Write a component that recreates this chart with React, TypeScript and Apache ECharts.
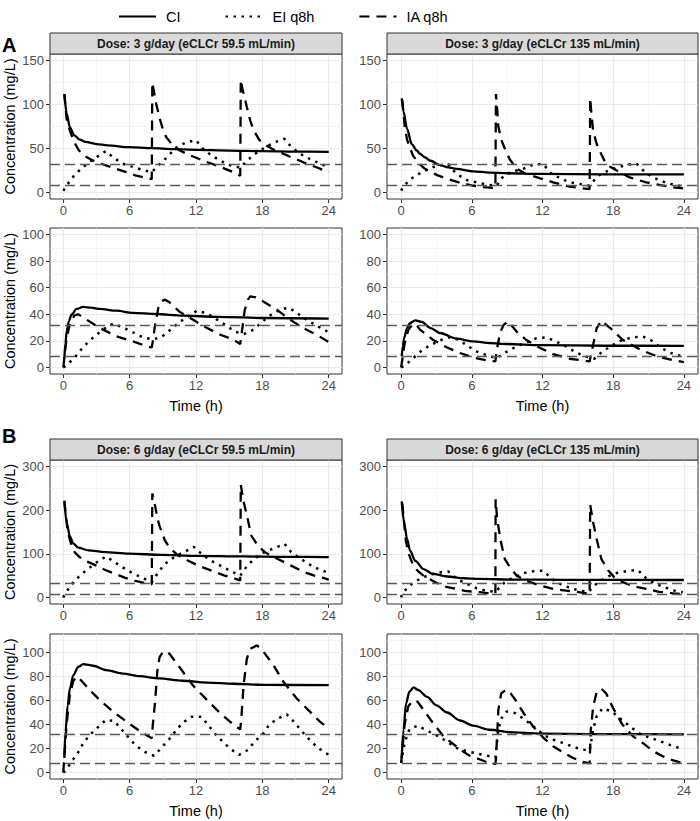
import React, { useEffect, useRef } from "react";
import * as echarts from "echarts";

type P = [number, number];

// ---------- text / categories ----------
const legendNames = ["CI", "EI q8h", "IA q8h"];
const stripTitles = [
  "Dose: 3 g/day (eCLCr 59.5 mL/min)",
  "Dose: 3 g/day (eCLCr 135 mL/min)",
  "Dose: 6 g/day (eCLCr 59.5 mL/min)",
  "Dose: 6 g/day (eCLCr 135 mL/min)",
];
const sectionLabels = ["A", "B"];
const yTitle = "Concentration (mg/L)";
const xTitle = "Time (h)";

// ---------- ticks ----------
const xTicks = [0, 6, 12, 18, 24];
const xMinor = [3, 9, 15, 21];
const yTicks150 = [0, 50, 100, 150];
const yMinor150 = [25, 75, 125];
const yTicks100 = [0, 20, 40, 60, 80, 100];
const yMinor100 = [10, 30, 50, 70, 90];
const yTicks300 = [0, 100, 200, 300];
const yMinor300 = [50, 150, 250];
const yMinor110 = [10, 30, 50, 70, 90, 110];
const refLines = [8, 32];

// ---------- A: 3 g/day, eCLCr 59.5, upper ----------
const a1L_ci: P[] = [[0.1,112],[0.3,90],[0.6,74],[1,65],[1.5,60],[2,57.5],[3,55],[4,53.5],[6,51.5],[8,50.3],[10,49.3],[12,48.5],[15,47.6],[18,47],[21,46.5],[24,46.2]];
const a1L_ei: P[] = [[0,2],[0.2,5.5],[0.75,16],[1.45,25],[2.2,33],[3,40],[3.85,47],[4.5,40],[5.3,33],[6.3,29],[7.2,25.5],[8,23],[8.6,31],[9.3,39],[10.2,51],[11.1,57],[12,59.5],[12.6,50],[13.3,43],[14.2,36],[15.1,31],[16,28],[16.6,36],[17.3,43.5],[18.2,51],[19.1,57],[20,61],[20.6,52],[21.4,44],[22.3,38],[23.2,33],[24,28.5]];
const a1L_ia: P[] = [[0.1,112],[0.3,84],[0.6,70],[1,57],[1.4,48],[2,41],[2.5,37.5],[3.3,33],[4.3,29],[5,26],[5.7,23],[6.5,19.5],[7.2,17.5],[8,15],[8.05,125],[8.2,115],[8.4,101],[8.7,85],[9,72],[9.3,63],[9.8,55],[10.5,48],[11.3,43],[12.3,38],[13.1,34],[13.9,30.5],[14.7,26.5],[15.4,23],[16,19],[16.05,128],[16.2,118],[16.6,97],[16.9,82],[17.2,71],[17.7,60],[18.4,53],[19.1,48],[19.9,44],[20.6,40],[21.4,36],[22.1,32],[22.9,28.6],[23.5,25.5],[24,23]];

// ---------- A: 3 g/day, eCLCr 59.5, lower ----------
const a2L_ci: P[] = [[0.1,7],[0.2,18],[0.3,27],[0.5,34.7],[0.75,39.7],[1.2,44],[1.8,45.5],[2.5,45],[3.3,44],[4.8,42.7],[6.3,41],[8.4,40.2],[10.8,39],[13.9,38],[18.4,37.2],[24,36.7]];
const a2L_ei: P[] = [[0,0],[0.2,1],[1,7],[1.6,13.3],[2.3,19.6],[3,24.6],[3.7,29],[4.5,33],[5.4,30],[6.3,26.4],[7.2,22.6],[8.1,21],[8.9,23],[9.7,28.4],[10.5,34],[11.3,38.4],[12.1,42.7],[13,40.5],[13.9,36],[14.7,31.7],[15.5,27],[16.3,25],[17.2,28.4],[18,34.5],[18.8,39.7],[19.6,43.5],[20.4,45],[21.2,40.5],[22.1,35.4],[23,31],[24,26.5]];
const a2L_ia: P[] = [[0,0],[0.3,22],[0.6,33],[1,39],[1.35,40],[2.1,36],[3.3,29.6],[4.8,23.4],[6.3,19.6],[7.5,16],[8,15],[8.1,20],[8.3,32],[8.6,45],[8.9,50],[9.2,51],[9.6,49],[10.5,42],[11.7,36],[13,29.6],[14.2,24.6],[15.4,20.8],[16,17.6],[16.2,30],[16.4,43],[16.7,51],[16.9,53.5],[17.3,53],[18,50],[19.3,43.5],[20.5,36],[21.7,29.6],[22.9,24.6],[24,19]];

// ---------- A: 3 g/day, eCLCr 135, upper ----------
const a1R_ci: P[] = [[0.05,107],[0.2,92],[0.5,72.5],[0.9,55],[1.3,48],[1.6,44],[2,40],[2.5,36],[3.3,31],[4,28.5],[4.7,26.7],[6.1,24],[7.5,22.5],[9,21.8],[11.8,21],[17.4,20.6],[24,20.5]];
const a1R_ei: P[] = [[0,2],[0.15,5.7],[0.76,15],[1.5,21],[2.3,26.7],[3.1,30.5],[4,32],[4.7,21],[5.6,14],[6.4,11.5],[7.3,8.8],[8.1,7.6],[8.7,19],[9.5,24],[10.4,27],[11.2,31.7],[12.06,32.4],[12.7,21.8],[13.5,16],[14.3,11.5],[15.2,9.5],[16,7.6],[16.7,19],[17.6,24.8],[18.4,28.6],[19.3,31.7],[20,32.4],[20.7,23],[21.5,16.4],[22.4,11.5],[23.2,8.4],[24,6.9]];
const a1R_ia: P[] = [[0.1,105],[0.3,75],[0.5,60],[1,42],[1.5,33],[2,27],[3,20],[4,15],[5,11],[6,8],[7,6],[8,5],[8.05,112],[8.15,95],[8.25,75],[8.5,60],[8.8,50],[9.2,38],[9.8,27],[10.6,21],[11.8,16],[12.9,11.5],[14.3,6.5],[15.2,5],[16,3.8],[16.05,107],[16.15,90],[16.3,70],[16.6,55],[16.9,46],[17.4,32],[18.3,25],[19.4,17],[20.8,11.5],[22,8.4],[23.1,5.7],[24,4.5]];

// ---------- A: 3 g/day, eCLCr 135, lower ----------
const a2R_ci: P[] = [[0.05,8.3],[0.15,16],[0.25,22],[0.5,29.6],[0.75,33.4],[1.2,35.4],[1.75,34.2],[2.5,29.6],[3.3,25.9],[4.7,21.6],[6.1,19.6],[7.5,18.3],[9,17.6],[11.8,16.8],[17.4,16.3],[24,16.2]];
const a2R_ei: P[] = [[0,0],[0.2,0.75],[0.9,5.8],[1.6,11.6],[2.3,15.8],[3.2,20],[4,22.6],[4.9,20.8],[5.7,15.8],[6.4,12],[7.3,9],[8.1,7],[9,12],[9.8,15.8],[10.7,19],[11.5,22],[12.3,22.6],[13.1,19.6],[14,15.8],[14.7,12],[15.6,8.3],[16.4,6.5],[17.1,12],[18,17],[18.8,20.8],[19.7,22.6],[20.5,23.4],[21.4,19.6],[22,15],[22.9,10.8],[23.8,8.3]];
const a2R_ia: P[] = [[0,0],[0.3,18],[0.6,28],[1,33],[1.3,32],[1.6,28.4],[2.7,20.8],[3.9,15],[5,10.8],[6.1,7.5],[7.3,5.3],[8,4.5],[8.1,12],[8.4,26],[8.7,32],[9.1,34.7],[9.8,27],[10.6,20.8],[11.8,14.6],[12.9,10],[14.3,6.5],[16,4.5],[16.3,17],[16.6,29.6],[17,35.2],[17.9,28.4],[18.8,20.8],[20.3,13.3],[21.7,8.3],[23.1,5.3],[24,4]];

// ---------- B: 6 g/day, eCLCr 59.5, upper ----------
const b1L_ci: P[] = [[0.1,222],[0.3,172],[0.6,140],[0.9,124],[1.35,114],[2.26,108],[3.8,104],[5.9,100.5],[8.9,97.5],[11.9,95.5],[16.4,94],[20,93],[24,92.5]];
const b1L_ei: P[] = [[0,0],[0.15,8],[0.7,28.6],[1.35,46],[2.1,63],[3,80],[3.85,94],[4.4,85],[5.3,70],[6.1,58],[7,47],[8,35],[8.6,58],[9.2,77],[10.1,94],[11,105],[11.8,116],[12.5,100],[13.3,85],[14.2,73],[15.1,61],[16,50],[16.6,72],[17.3,89],[18.1,103],[19.1,113],[20,123],[20.6,104],[21.5,88],[22.3,75],[23,66],[24,56]];
const b1L_ia: P[] = [[0.1,220],[0.4,150],[0.75,119],[1.05,103],[1.5,92],[2,84],[2.9,74],[3.8,63],[4.7,54],[5.6,45],[6.5,38],[7.4,33],[8,30],[8.05,238],[8.3,210],[8.5,183],[8.7,164],[9.2,130],[9.6,114],[10.4,96],[11.3,84],[12.2,73],[13.4,61.5],[14.6,50],[15.4,44],[16,39],[16.05,258],[16.3,220],[16.6,188],[17,142],[17.5,122],[18.2,104],[19.4,88],[20.6,73],[21.8,58],[22.7,50],[23.5,45],[24,41]];

// ---------- B: 6 g/day, eCLCr 59.5, lower ----------
const b2L_ci: P[] = [[0.1,12],[0.2,34],[0.4,56],[0.6,70],[0.9,81],[1.35,88],[1.8,90.3],[2.7,89],[3.9,85.3],[5.4,82.5],[6.9,80.3],[8.7,78.4],[10.8,76.5],[13,75],[15.4,74],[18.4,73],[24,72.8]];
const b2L_ei: P[] = [[0,0],[0.2,1.4],[0.75,9],[1.3,16],[1.8,24.4],[2.35,30.7],[3.1,37.4],[3.85,43.8],[4.6,43],[5.3,35.5],[5.96,28.5],[6.6,22],[7.4,17],[8.2,13.9],[8.9,20.8],[9.6,28],[10.2,35],[10.8,41.5],[11.6,46.5],[12.5,46.5],[13.1,39.6],[13.7,32.4],[14.4,25.8],[15.1,19.7],[15.9,14.7],[16.7,18.8],[17.3,25.8],[18.1,32.7],[18.6,39.6],[19.4,45],[20.2,48.5],[20.9,41.8],[21.5,35],[22.2,28],[22.9,21.6],[23.6,16.6],[24,15]];
const b2L_ia: P[] = [[0,0],[0.3,40],[0.6,65],[0.9,76],[1.2,80],[1.5,78],[2.4,68.7],[3.3,60.4],[4.5,50.7],[5.7,42.4],[6.9,34.6],[8,28.5],[8.1,40],[8.3,59],[8.5,84],[8.7,96],[9,100.5],[9.3,101],[9.6,99],[10.5,88],[11.7,72.8],[13,60.4],[14.2,49.3],[15.7,37.5],[16,36],[16.1,45],[16.3,72.8],[16.6,95],[16.9,103],[17.5,106],[18,102],[19,89.5],[19.9,75.6],[21.1,61.8],[22.3,50.7],[23.2,42.4],[24,36.8]];

// ---------- B: 6 g/day, eCLCr 135, upper ----------
const b1R_ci: P[] = [[0.05,220],[0.25,172],[0.5,134],[0.76,107],[1.2,84],[1.9,65],[2.7,54],[3.9,48],[5.3,44],[6.7,42.4],[9.5,41],[14,40.5],[24,40]];
const b1R_ei: P[] = [[0,0],[0.1,9.5],[0.76,28.6],[1.55,42],[2.4,52],[3.2,57],[4,59.5],[4.8,41],[5.6,31],[6.4,21],[7.2,15.6],[8,13],[8.8,35],[9.55,46],[10.4,56],[11.35,61],[12.1,61],[12.8,42],[13.5,31],[14.4,21],[15.2,15.6],[15.9,13],[16.7,35],[17.6,48.5],[18.3,56],[19.3,61],[20.1,63],[20.8,44],[21.5,32.4],[22.4,23],[23.2,15.6],[23.9,11.8]];
const b1R_ia: P[] = [[0.1,215],[0.4,130],[0.6,103],[1,75],[1.4,61],[1.9,50],[2.9,35],[3.7,25],[4.7,19.5],[5.4,15],[6.7,12],[7.3,10],[8,9],[8.02,225],[8.15,180],[8.45,130],[8.8,88],[9.25,69],[9.8,50],[10.6,38.5],[11.8,27],[12.9,19.5],[14,15.6],[15.2,11.8],[16,8],[16.05,212],[16.3,172],[16.6,134],[17,88],[17.6,61],[18.1,46],[18.8,35],[19.7,25.6],[20.8,19.5],[21.9,13],[23.1,9.5],[24,7]];

// ---------- B: 6 g/day, eCLCr 135, lower ----------
const b2R_ci: P[] = [[0.05,12],[0.2,35.6],[0.42,57.7],[0.7,67.3],[1.05,70.9],[1.47,68.7],[2.2,63],[3,56],[3.9,50],[5,43.3],[6.1,39],[7.5,35.6],[9.5,33.4],[12.3,32.3],[16,32],[24,31.8]];
const b2R_ei: P[] = [[0,8],[0.3,25],[0.7,36],[1.4,39],[2.2,35],[3.2,30],[4,25],[4.7,20.4],[5.6,17.7],[6.5,15.7],[7.3,14],[8,12.4],[8.25,35.6],[8.5,45],[8.95,50.8],[9.7,49.4],[10.5,44],[11.4,37],[12.2,30.6],[13,27],[13.9,24],[14.7,21],[15.5,19],[16,18],[16.3,35.6],[16.6,47],[17.1,53.5],[17.9,50.8],[18.7,44],[19.6,37],[20.4,31.4],[21.2,28.7],[22,26],[22.8,23],[23.6,20.4],[24,19.5]];
const b2R_ia: P[] = [[0,8],[0.3,40],[0.6,55],[1,60],[1.4,59],[2.5,44],[3.6,30],[4.3,24.6],[5.1,18.5],[5.8,14],[6.7,10.8],[7.4,8],[8,7],[8.05,11],[8.25,52],[8.5,66],[8.9,69],[9.3,66],[9.8,59],[10.4,49.4],[11.2,38.3],[12.1,28.7],[12.9,21.8],[13.8,16.3],[14.6,12],[15.5,8.5],[16,7.5],[16.1,35.6],[16.3,55],[16.6,67],[17,69.8],[17.4,66],[18,53.5],[18.8,39.7],[19.7,30],[20.5,24.6],[21.4,17.7],[22.2,13.5],[23.1,10],[24,7.5]];

// ---------- assembly ----------
const yScales = [
  { min: -7.5, max: 157.5, major: yTicks150, minor: yMinor150 },
  { min: -5, max: 105, major: yTicks100, minor: yMinor100 },
  { min: -15, max: 315, major: yTicks300, minor: yMinor300 },
  { min: -5.5, max: 115.5, major: yTicks100, minor: yMinor110 },
];

const panels = [
  { row: 0, col: 0, ci: a1L_ci, ei: a1L_ei, ia: a1L_ia },
  { row: 0, col: 1, ci: a1R_ci, ei: a1R_ei, ia: a1R_ia },
  { row: 1, col: 0, ci: a2L_ci, ei: a2L_ei, ia: a2L_ia },
  { row: 1, col: 1, ci: a2R_ci, ei: a2R_ei, ia: a2R_ia },
  { row: 2, col: 0, ci: b1L_ci, ei: b1L_ei, ia: b1L_ia },
  { row: 2, col: 1, ci: b1R_ci, ei: b1R_ei, ia: b1R_ia },
  { row: 3, col: 0, ci: b2L_ci, ei: b2L_ei, ia: b2L_ia },
  { row: 3, col: 1, ci: b2R_ci, ei: b2R_ei, ia: b2R_ia },
];

// layout (pixels)
const FONT = "Liberation Sans, Arial, Helvetica, sans-serif";
const colLeft = [50, 387];
const colWidth = [292, 311];
const rowTop = [54, 228, 460, 634];
const rowHeight = [145, 146, 144, 145];
const stripTop = [33, 439];
const stripH = 21;

function buildOption() {
  const grid: any[] = [];
  const xAxis: any[] = [];
  const yAxis: any[] = [];
  const series: any[] = [];

  panels.forEach((p, i) => {
    const ys = yScales[p.row];
    grid.push({
      left: colLeft[p.col],
      top: rowTop[p.row],
      width: colWidth[p.col],
      height: rowHeight[p.row],
      show: true,
      borderColor: "#333333",
      borderWidth: 1,
      backgroundColor: "#ffffff",
      containLabel: false,
      outerBoundsMode: "none",
    });
    const isBottom = p.row === 1 || p.row === 3;
    xAxis.push({
      type: "value",
      gridIndex: i,
      min: -1.2,
      max: 25.2,
      position: "bottom",
      axisLine: { show: false, onZero: false },
      axisTick: { show: true, length: 4, customValues: xTicks, lineStyle: { color: "#333333", width: 1 } },
      axisLabel: { show: true, customValues: xTicks, color: "#4D4D4D", fontSize: 13, margin: 5, fontFamily: FONT },
      splitLine: { show: true, lineStyle: { color: "#EBEBEB", width: 1.1 } },
      name: isBottom ? xTitle : "",
      nameLocation: "middle",
      nameGap: 24,
      nameTextStyle: { fontSize: 14.5, color: "#000", fontFamily: FONT },
    });
    xAxis.push({
      type: "value",
      gridIndex: i,
      min: -1.2,
      max: 25.2,
      position: "bottom",
      axisLine: { show: false, onZero: false },
      axisTick: { show: false, customValues: xMinor },
      axisLabel: { show: false, customValues: xMinor },
      splitLine: { show: true, lineStyle: { color: "#EEEEEE", width: 0.6 } },
    });
    yAxis.push({
      type: "value",
      gridIndex: i,
      min: ys.min,
      max: ys.max,
      position: "left",
      axisLine: { show: false, onZero: false },
      axisTick: { show: true, length: 4, customValues: ys.major, lineStyle: { color: "#333333", width: 1 } },
      axisLabel: { show: true, customValues: ys.major, color: "#4D4D4D", fontSize: 13, margin: 6, fontFamily: FONT },
      splitLine: { show: true, lineStyle: { color: "#EBEBEB", width: 1.1 } },
    });
    yAxis.push({
      type: "value",
      gridIndex: i,
      min: ys.min,
      max: ys.max,
      position: "left",
      axisLine: { show: false, onZero: false },
      axisTick: { show: false, customValues: ys.minor },
      axisLabel: { show: false, customValues: ys.minor },
      splitLine: { show: true, lineStyle: { color: "#EEEEEE", width: 0.6 } },
    });

    const common = {
      type: "line",
      xAxisIndex: 2 * i,
      yAxisIndex: 2 * i,
      symbol: "none",
      showSymbol: false,
      silent: true,
      clip: true,
      itemStyle: { color: "#000000" },
    };
    series.push({
      ...common,
      name: legendNames[0],
      data: p.ci,
      smooth: 0.3,
      smoothMonotone: "x",
      lineStyle: { color: "#000000", width: 2.3, type: "solid" },
      z: 4,
      markLine: {
        silent: true,
        symbol: ["none", "none"],
        label: { show: false },
        lineStyle: { color: "#5A5A5A", width: 1.3, type: [10, 5] },
        data: refLines.map((v) => ({ yAxis: v })),
        animation: false,
      },
    });
    series.push({
      ...common,
      name: legendNames[1],
      data: p.ei,
      lineStyle: { color: "#000000", width: 2.5, type: [2.5, 5.5], cap: "butt" },
      z: 3,
    });
    series.push({
      ...common,
      name: legendNames[2],
      data: p.ia,
      lineStyle: { color: "#000000", width: 2.3, type: [10, 7], cap: "butt" },
      z: 3,
    });
  });

  const graphic: any[] = [];
  sectionLabels.forEach((s, k) => {
    graphic.push({
      type: "text",
      x: 2,
      y: k === 0 ? 45 : 436,
      style: { text: s, fill: "#000", font: `bold 20px ${FONT}`, align: "left", verticalAlign: "middle" },
    });
  });
  stripTitles.forEach((t, k) => {
    const col = k % 2;
    const sec = Math.floor(k / 2);
    const x = colLeft[col];
    const w = colWidth[col];
    const y = stripTop[sec];
    graphic.push({
      type: "rect",
      shape: { x, y, width: w, height: stripH },
      style: { fill: "#D9D9D9", stroke: "#333333", lineWidth: 1 },
      z: 10,
    });
    graphic.push({
      type: "text",
      x: x + w / 2,
      y: y + stripH / 2 + 0.5,
      style: { text: t, fill: "#1A1A1A", font: `bold 12px ${FONT}`, align: "center", verticalAlign: "middle" },
      z: 11,
    });
  });
  [0, 1, 2, 3].forEach((r) => {
    graphic.push({
      type: "text",
      x: 9.5,
      y: rowTop[r] + rowHeight[r] / 2,
      rotation: Math.PI / 2,
      style: { text: yTitle, fill: "#000", font: `14.5px ${FONT}`, align: "center", verticalAlign: "middle" },
    });
  });

  return {
    animation: false,
    backgroundColor: "#ffffff",
    textStyle: { fontFamily: FONT },
    legend: {
      data: legendNames,
      top: 4,
      left: 113,
      itemWidth: 37,
      itemHeight: 14,
      itemGap: 44,
      selectedMode: false,
      itemStyle: { opacity: 0, borderWidth: 0 },
      textStyle: { fontSize: 14.5, color: "#000", fontFamily: FONT, padding: [0, 0, 0, 5] },
    },
    grid,
    xAxis,
    yAxis,
    series,
    graphic,
  };
}

export default function App() {
  const ref = useRef<HTMLDivElement>(null);
  useEffect(() => {
    document.body.style.margin = "0";
    if (!ref.current) return;
    const chart = echarts.init(ref.current, undefined, { renderer: "svg" });
    chart.setOption(buildOption() as any);
    return () => {
      chart.dispose();
    };
  }, []);
  return <div ref={ref} style={{ width: 700, height: 821 }} />;
}
